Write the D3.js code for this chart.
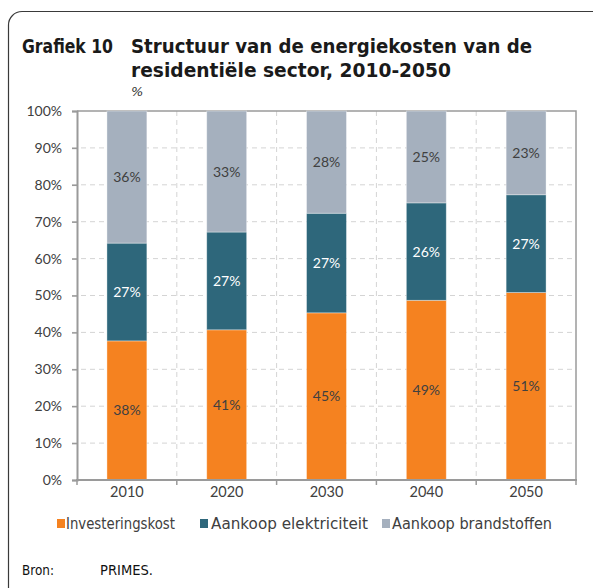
<!DOCTYPE html>
<html>
<head>
<meta charset="utf-8">
<script src="https://cdn.jsdelivr.net/npm/d3@7"></script>
<style>
  html, body { margin: 0; padding: 0; background: #fff; }
  svg { display: block; }
</style>
</head>
<body>
<svg id="chart" width="595" height="588"></svg>
<script>
// ---- Data ----
const years = ["2010", "2020", "2030", "2040", "2050"];
const seriesNames = ["Investeringskost", "Aankoop elektriciteit", "Aankoop brandstoffen"];
const investeringskost = [37.7, 40.7, 45.3, 48.7, 50.8];
const elektriciteit = [26.5, 26.5, 27.0, 26.4, 26.5];
const brandstoffen = [35.8, 32.8, 27.7, 24.9, 22.7];
const yTicks = [0, 10, 20, 30, 40, 50, 60, 70, 80, 90, 100];

const colors = ["#F58220", "#2E677B", "#A5B0BE"];
const labelColors = ["#404040", "#ffffff", "#404040"];

const table = years.map((yr, i) => ({
  year: yr,
  "Investeringskost": investeringskost[i],
  "Aankoop elektriciteit": elektriciteit[i],
  "Aankoop brandstoffen": brandstoffen[i]
}));

const svg = d3.select("#chart");

// Frame
svg.append("path")
  .attr("d", "M8.5,588 V25 A13.5,13.5 0 0 1 22,11.5 H593")
  .attr("fill", "none").attr("stroke", "#3a3a3a").attr("stroke-width", 1.2);

// Title
const titleFont = "'DejaVu Sans', Verdana, sans-serif";
svg.append("text").attr("x", 22).attr("y", 53)
  .attr("font-family", titleFont).attr("font-weight", "bold").attr("font-size", 19)
  .attr("fill", "#1a1a1a").attr("textLength", 91).attr("lengthAdjust", "spacingAndGlyphs")
  .text("Grafiek 10");
svg.append("text").attr("x", 131).attr("y", 53)
  .attr("font-family", titleFont).attr("font-weight", "bold").attr("font-size", 19)
  .attr("fill", "#1a1a1a").attr("textLength", 401).attr("lengthAdjust", "spacingAndGlyphs")
  .text("Structuur van de energiekosten van de");
svg.append("text").attr("x", 131).attr("y", 77)
  .attr("font-family", titleFont).attr("font-weight", "bold").attr("font-size", 19)
  .attr("fill", "#1a1a1a").attr("textLength", 320).attr("lengthAdjust", "spacingAndGlyphs")
  .text("residentiële sector, 2010-2050");
svg.append("text").attr("x", 131).attr("y", 96)
  .attr("font-family", titleFont).attr("font-style", "italic").attr("font-size", 13)
  .attr("fill", "#333").text("%");

// Scales
const pLeft = 77, pRight = 576, pTop = 111, pBottom = 480;
const x = d3.scaleBand().domain(years).range([pLeft, pRight]).paddingInner(0.6).paddingOuter(0.3);
const y = d3.scaleLinear().domain([0, 100]).range([pBottom, pTop]);

const boundaries = years.slice(0, -1).map(d => x(d) + x.bandwidth() / 2 + x.step() / 2);

// Gridlines
const grid = svg.append("g").attr("stroke", "#d4d4d4").attr("stroke-dasharray", "5,4").attr("stroke-width", 1);
grid.selectAll("line.h").data(yTicks.filter(t => t > 0 && t < 100)).join("line")
  .attr("x1", pLeft - 5).attr("x2", pRight).attr("y1", d => y(d)).attr("y2", d => y(d));
grid.selectAll("line.v").data(boundaries).join("line")
  .attr("x1", d => d).attr("x2", d => d).attr("y1", pTop).attr("y2", pBottom);

// Plot border top & right
svg.append("path")
  .attr("d", `M${pLeft},${pTop} H${pRight} V${pBottom}`)
  .attr("fill", "none").attr("stroke", "#9a9a9a").attr("stroke-width", 1.5);

// Stacked bars
const stack = d3.stack().keys(seriesNames);
const stacked = stack(table);

const layers = svg.append("g").selectAll("g").data(stacked).join("g")
  .attr("fill", (d, i) => colors[i]);
layers.selectAll("rect").data(d => d).join("rect")
  .attr("x", d => x(d.data.year))
  .attr("width", x.bandwidth())
  .attr("y", d => y(d[1]))
  .attr("height", d => y(d[0]) - y(d[1]))
  .attr("stroke", "rgba(255,255,255,0.45)").attr("stroke-width", 0.8);

// Value labels
const labelFont = "Lato, 'Open Sans', sans-serif";
stacked.forEach((layer, i) => {
  svg.append("g").selectAll("text").data(layer).join("text")
    .attr("x", d => x(d.data.year) + x.bandwidth() / 2)
    .attr("y", d => (y(d[0]) + y(d[1])) / 2)
    .attr("dy", "0.36em")
    .attr("text-anchor", "middle")
    .attr("font-family", labelFont).attr("font-size", 14)
    .attr("fill", labelColors[i])
    .text(d => Math.round(d[1] - d[0]) + "%");
});

// Y axis
const yAxis = d3.axisLeft(y).tickValues(yTicks).tickFormat(d => d + "%").tickSize(5).tickPadding(10);
const yg = svg.append("g").attr("transform", `translate(${pLeft},0)`).call(yAxis);
yg.select(".domain").attr("stroke", "#9a9a9a").attr("stroke-width", 2);
yg.selectAll(".tick line").attr("stroke", "#9a9a9a").attr("stroke-width", 1.5);
yg.selectAll(".tick text").attr("font-family", labelFont).attr("font-size", 14).attr("fill", "#404040");

// X axis
const xAxis = d3.axisBottom(x).tickSize(0).tickPadding(7);
const xg = svg.append("g").attr("transform", `translate(0,${pBottom})`).call(xAxis);
xg.select(".domain").remove();
xg.selectAll(".tick text").attr("font-family", labelFont).attr("font-size", 14.5).attr("fill", "#404040");
svg.append("line").attr("x1", pLeft - 1).attr("x2", pRight + 1).attr("y1", pBottom).attr("y2", pBottom)
  .attr("stroke", "#9a9a9a").attr("stroke-width", 2);
svg.append("g").selectAll("line").data([pLeft, ...boundaries, pRight]).join("line")
  .attr("x1", d => d).attr("x2", d => d).attr("y1", pBottom).attr("y2", pBottom + 5)
  .attr("stroke", "#9a9a9a").attr("stroke-width", 1.5);

// Legend
const legendFont = "'DejaVu Sans', Verdana, sans-serif";
const legendPos = [{sq: 57, tx: 66, w: 109}, {sq: 200, tx: 211, w: 157}, {sq: 382, tx: 392, w: 160}];
seriesNames.forEach((name, i) => {
  svg.append("rect").attr("x", legendPos[i].sq).attr("y", 519).attr("width", 8).attr("height", 9)
    .attr("fill", colors[i]);
  svg.append("text").attr("x", legendPos[i].tx).attr("y", 529)
    .attr("font-family", legendFont).attr("font-size", 15).attr("fill", "#404040")
    .attr("textLength", legendPos[i].w).attr("lengthAdjust", "spacingAndGlyphs")
    .text(name);
});

// Source
svg.append("text").attr("x", 22).attr("y", 575)
  .attr("font-family", legendFont).attr("font-size", 14.5).attr("fill", "#111")
  .attr("textLength", 32).attr("lengthAdjust", "spacingAndGlyphs").text("Bron:");
svg.append("text").attr("x", 100).attr("y", 575)
  .attr("font-family", legendFont).attr("font-size", 14.5).attr("fill", "#111")
  .attr("textLength", 53).attr("lengthAdjust", "spacingAndGlyphs").text("PRIMES.");
</script>
</body>
</html>
